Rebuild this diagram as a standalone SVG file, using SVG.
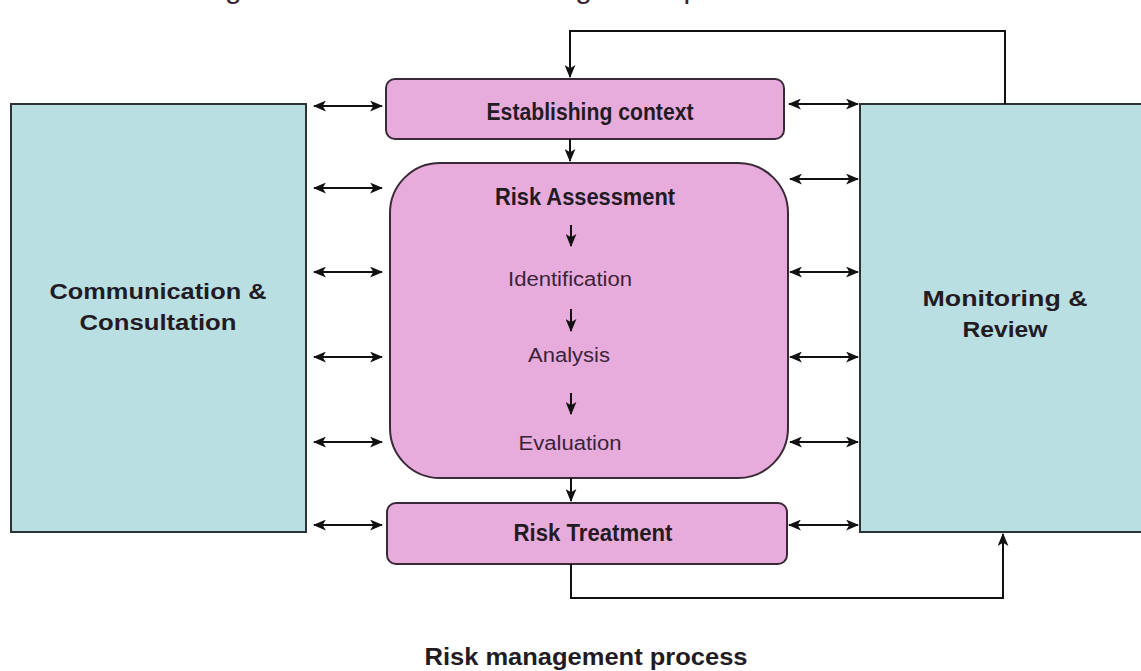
<svg xmlns="http://www.w3.org/2000/svg" width="1141" height="671" viewBox="0 0 1141 671">
<style>
.side{fill:#badfe2;stroke:#2a3436;stroke-width:2}
.pink{fill:#e8acdc;stroke:#3a2a38;stroke-width:2}
.b{font-family:"Liberation Sans",Arial,sans-serif;font-weight:bold;fill:#231b23}
.r{font-family:"Liberation Sans",Arial,sans-serif;fill:#3a2438}
.c{fill:none;stroke:#111;stroke-width:2}
</style>
<defs>
<marker id="ah" viewBox="0 0 12 10" refX="11" refY="5" markerWidth="6.5" markerHeight="5.5" orient="auto-start-reverse" markerUnits="strokeWidth">
<path d="M0,0 L12,5 L0,10 L3,5 Z" fill="#111"/>
</marker>
</defs>
<rect width="1141" height="671" fill="#fff"/>
<text class="r" x="125" y="-2" font-size="30" fill="#111">The diagram shows the risk management process</text>
<g id="communication">
<rect class="side" x="11" y="104" width="295" height="428"/>
<text class="b" x="158" y="299" font-size="22" text-anchor="middle" textLength="217" lengthAdjust="spacingAndGlyphs">Communication &amp;</text>
<text class="b" x="158" y="330" font-size="22" text-anchor="middle" textLength="157" lengthAdjust="spacingAndGlyphs">Consultation</text>
</g>
<g id="monitoring">
<rect class="side" x="860" y="104" width="290" height="428"/>
<text class="b" x="1005" y="306" font-size="22" text-anchor="middle" textLength="165" lengthAdjust="spacingAndGlyphs">Monitoring &amp;</text>
<text class="b" x="1005" y="337" font-size="22" text-anchor="middle" textLength="85" lengthAdjust="spacingAndGlyphs">Review</text>
</g>
<g id="context">
<rect class="pink" x="386" y="79" width="398" height="60" rx="9"/>
<text class="b" x="590" y="120" font-size="23" text-anchor="middle" textLength="207" lengthAdjust="spacingAndGlyphs">Establishing context</text>
</g>
<g id="assessment">
<rect class="pink" x="390" y="163" width="398" height="315" rx="50"/>
<text class="b" x="585" y="205" font-size="23" text-anchor="middle" textLength="180" lengthAdjust="spacingAndGlyphs">Risk Assessment</text>
<text class="r" x="570" y="286" font-size="20" text-anchor="middle" textLength="124" lengthAdjust="spacingAndGlyphs">Identification</text>
<text class="r" x="569" y="362" font-size="20" text-anchor="middle" textLength="82" lengthAdjust="spacingAndGlyphs">Analysis</text>
<text class="r" x="570" y="450" font-size="20" text-anchor="middle" textLength="103" lengthAdjust="spacingAndGlyphs">Evaluation</text>
</g>
<g id="treatment">
<rect class="pink" x="387" y="503" width="400" height="61" rx="9"/>
<text class="b" x="593" y="541" font-size="23" text-anchor="middle" textLength="159" lengthAdjust="spacingAndGlyphs">Risk Treatment</text>
</g>
<g id="connectors" class="c">
<path d="M1005,104 V31 H570 V77" marker-end="url(#ah)"/>
<path d="M570,139 V161" marker-end="url(#ah)"/>
<path d="M571,478 V501" marker-end="url(#ah)"/>
<path d="M571,564 V598 H1003 V534" marker-end="url(#ah)"/>
<path d="M571,225 V246" marker-end="url(#ah)"/>
<path d="M571,309 V331" marker-end="url(#ah)"/>
<path d="M571,393 V414" marker-end="url(#ah)"/>
<path d="M314,106 H382" marker-start="url(#ah)" marker-end="url(#ah)"/>
<path d="M314,188 H382" marker-start="url(#ah)" marker-end="url(#ah)"/>
<path d="M314,272 H382" marker-start="url(#ah)" marker-end="url(#ah)"/>
<path d="M314,357 H382" marker-start="url(#ah)" marker-end="url(#ah)"/>
<path d="M314,442 H382" marker-start="url(#ah)" marker-end="url(#ah)"/>
<path d="M314,525 H382" marker-start="url(#ah)" marker-end="url(#ah)"/>
<path d="M789,104 H858" marker-start="url(#ah)" marker-end="url(#ah)"/>
<path d="M790,179 H858" marker-start="url(#ah)" marker-end="url(#ah)"/>
<path d="M790,272 H858" marker-start="url(#ah)" marker-end="url(#ah)"/>
<path d="M790,357 H858" marker-start="url(#ah)" marker-end="url(#ah)"/>
<path d="M790,442 H858" marker-start="url(#ah)" marker-end="url(#ah)"/>
<path d="M789,525 H858" marker-start="url(#ah)" marker-end="url(#ah)"/>
</g>
<text class="b" x="586" y="665" font-size="23" text-anchor="middle" fill="#111" textLength="323" lengthAdjust="spacingAndGlyphs">Risk management process</text>
</svg>
